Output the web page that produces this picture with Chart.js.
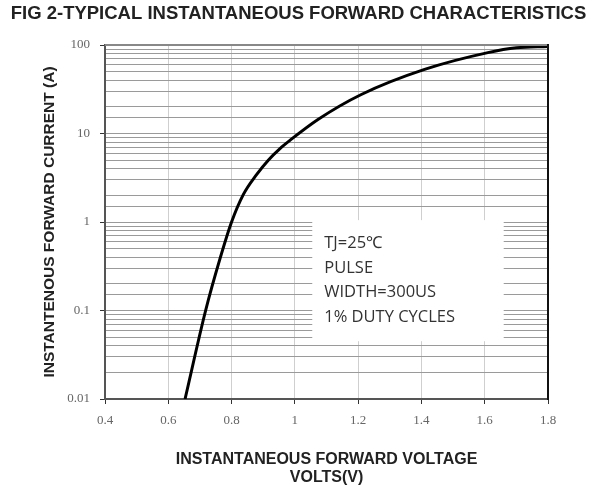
<!DOCTYPE html>
<html>
<head>
<meta charset="utf-8">
<script src="https://cdn.jsdelivr.net/npm/chart.js@4"></script>
<style>
  html, body { margin: 0; padding: 0; background: #fff; }
  #wrap { width: 597px; height: 492px; }
</style>
</head>
<body>
<div id="wrap"><canvas id="chartArea"></canvas></div>
<script>
// forward voltage (V) vs forward current (A)
const volts = [0.653, 0.718, 0.763, 0.8, 0.837, 0.879, 0.916, 0.953, 0.985, 1.073, 1.21, 1.41, 1.61, 1.7, 1.8];
const amps = [0.01, 0.1, 0.38, 1.0, 2.04, 3.43, 5.0, 6.76, 8.4, 14.4, 27.6, 53, 82, 93, 96];

const xTickLabels = ['0.4', '0.6', '0.8', '1', '1.2', '1.4', '1.6', '1.8'];
const yTickValues = [0.01, 0.1, 1, 10, 100];
const yTickLabels = ['0.01', '0.1', '1', '10', '100'];

const titleText = 'FIG 2-TYPICAL INSTANTANEOUS FORWARD CHARACTERISTICS';
const noteLines = ['TJ=25\u2103', 'PULSE', 'WIDTH=300US', '1% DUTY CYCLES'];

const isDecade = v => yTickValues.some(t => Math.abs(Math.log10(v) - Math.log10(t)) < 1e-6);

// white note box over the grid, page title, and the top/right frame
const notePlugin = {
  id: 'note',
  beforeDatasetsDraw(chart) {
    const { ctx, scales: { x, y } } = chart;
    const left = x.getPixelForValue(1.055);
    const right = x.getPixelForValue(1.66);
    const top = y.getPixelForValue(1.05);
    const bottom = y.getPixelForValue(0.045);
    ctx.save();
    ctx.fillStyle = '#fff';
    ctx.fillRect(left, top, right - left, bottom - top);
    ctx.fillStyle = '#333';
    ctx.font = '16.5px "Open Sans"';
    ctx.textBaseline = 'middle';
    noteLines.forEach((line, i) => {
      ctx.fillText(line, left + 12, top + 23 + i * 24.7);
    });
    ctx.restore();
  },
  afterDraw(chart) {
    const { ctx, chartArea: a, width } = chart;
    ctx.save();
    ctx.fillStyle = '#222';
    ctx.font = 'bold 18.5px "Liberation Sans", Arial';
    ctx.textAlign = 'center';
    ctx.textBaseline = 'middle';
    ctx.fillText(titleText, width / 2, 14);

    ctx.strokeStyle = '#888';
    ctx.lineWidth = 2;
    ctx.beginPath();
    ctx.moveTo(a.left, a.top);
    ctx.lineTo(a.right, a.top);
    ctx.stroke();
    ctx.strokeStyle = '#111';
    ctx.beginPath();
    ctx.moveTo(a.right, a.top - 1);
    ctx.lineTo(a.right, a.bottom + 1);
    ctx.stroke();
    ctx.restore();
  }
};

const ctx = document.getElementById('chartArea');
new Chart(ctx, {
  type: 'line',
  data: {
    labels: volts,
    datasets: [{
      data: volts.map((v, i) => ({ x: v, y: amps[i] })),
      borderColor: '#000',
      borderWidth: 3,
      pointRadius: 0,
      cubicInterpolationMode: 'monotone',
      fill: false
    }]
  },
  options: {
    responsive: true,
    maintainAspectRatio: false,
    animation: false,
    layout: {
      padding: { left: 0, right: 49, top: 45, bottom: 0 }
    },
    plugins: {
      legend: { display: false },
      tooltip: { enabled: false },
      title: { display: false }
    },
    scales: {
      x: {
        type: 'linear',
        min: 0.4,
        max: 1.8,
        afterFit(scale) { scale.height = 93; },
        ticks: {
          stepSize: 0.2,
          padding: 9,
          color: '#666',
          font: { family: '"Liberation Serif", serif', size: 13 },
          callback: (v, i) => xTickLabels[i]
        },
        grid: {
          color: '#cfcfcf',
          lineWidth: 1,
          tickLength: 5,
          tickColor: '#333'
        },
        border: { color: '#555', width: 2 },
        title: {
          display: true,
          text: ['INSTANTANEOUS FORWARD VOLTAGE', 'VOLTS(V)'],
          color: '#222',
          font: { family: '"Liberation Sans", Arial', size: 16, weight: 'bold', lineHeight: 1.15 },
          padding: { top: 0, bottom: 5 }
        }
      },
      y: {
        type: 'logarithmic',
        min: 0.01,
        max: 100,
        afterFit(scale) { scale.width = 105; },
        ticks: {
          autoSkip: false,
          padding: 10,
          color: '#666',
          font: { family: '"Liberation Serif", serif', size: 13 },
          callback: v => {
            const i = yTickValues.findIndex(t => Math.abs(Math.log10(v) - Math.log10(t)) < 1e-6);
            return i >= 0 ? yTickLabels[i] : '';
          }
        },
        grid: {
          color: '#9a9a9a',
          lineWidth: 1,
          tickLength: 5,
          tickColor: c => (c.tick && isDecade(c.tick.value)) ? '#333' : 'rgba(0,0,0,0)'
        },
        border: { color: '#555', width: 2 },
        title: {
          display: true,
          text: 'INSTANTENOUS FORWARD CURRENT (A)',
          color: '#222',
          font: { family: '"Liberation Sans", Arial', size: 15.5, weight: 'bold', lineHeight: 1.2 },
          padding: { top: 40, bottom: 0 }
        }
      }
    }
  },
  plugins: [notePlugin]
});
</script>
</body>
</html>
